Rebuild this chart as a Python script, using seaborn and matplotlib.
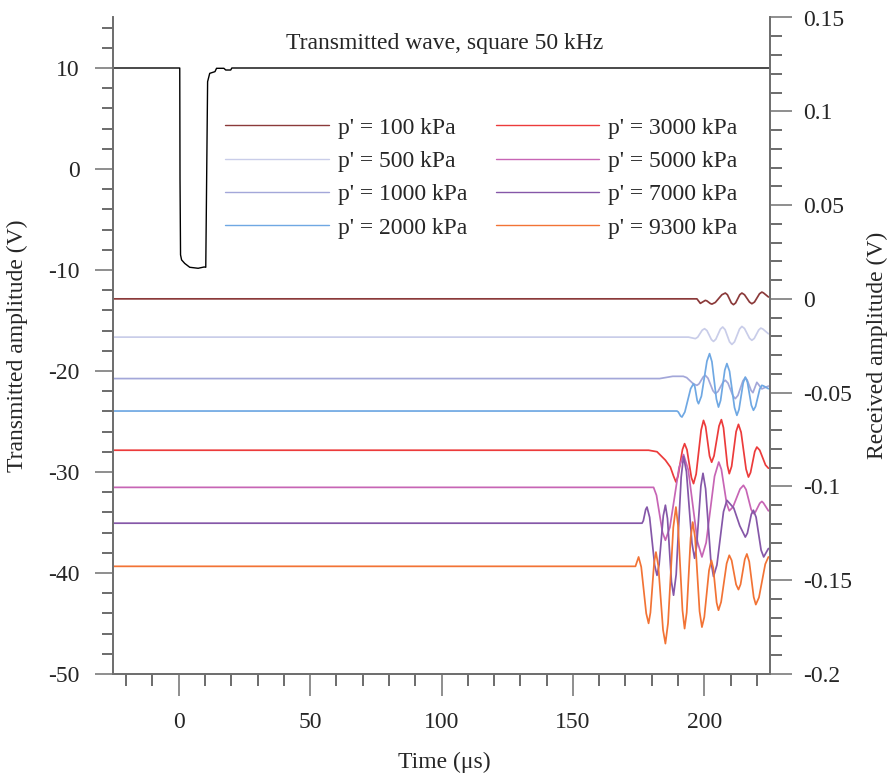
import matplotlib
matplotlib.use("Agg")
import matplotlib.pyplot as plt
import pandas as pd
import seaborn as sns
from matplotlib.ticker import FuncFormatter, MultipleLocator


# transmitted square pulse (left axis, V)
TX_T = [-25, 0.4, 0.5, 0.7, 1.1, 2.3, 4.2, 7.4, 9.7, 10.3, 11.0, 11.8, 13.8, 14.4, 17.2, 17.9, 19.8, 20.2, 225]
TX_V = [10, 10, -1.0, -8.5, -9.0, -9.35, -9.73, -9.83, -9.7, -9.73, 8.65, 9.47, 9.64, 9.97, 9.97, 9.8, 9.8, 10, 10]

LABELS = ["p' = 100 kPa", "p' = 500 kPa", "p' = 1000 kPa", "p' = 2000 kPa",
          "p' = 3000 kPa", "p' = 5000 kPa", "p' = 7000 kPa", "p' = 9300 kPa"]
COLORS = ["#8b3a3a", "#c9cde9", "#a3a7d9", "#6fa8e3",
          "#ec3b3b", "#c765b5", "#8557a8", "#f27335"]

R100_T = [-25, 197.2, 198.5, 200.4, 201.0, 202.3, 202.9, 204.2, 206.7, 208.0, 208.8, 210.3, 211.1, 211.9,
          213.5, 214.3, 215.3, 217.2, 218.1, 219.1, 221.0, 221.9, 222.5, 224.4]
R100_MV = [0, 0, -2.4, -0.8, -1.1, -2.5, -2.8, -1.9, 2.2, 3.1, 2.2, -2.2, -3.1, -2.2,
           2.2, 3.1, 2.2, -1.7, -2.6, -1.7, 2.7, 3.6, 3.2, 1.0]

R500_T = [-25, 194.0, 196.6, 197.5, 199.2, 200.1, 201.0, 202.7, 203.5, 204.4, 206.1, 207.0, 207.9, 209.6,
          210.5, 211.5, 213.4, 214.3, 215.3, 217.2, 218.1, 219.0, 220.7, 221.5, 222.3, 224.4]
R500_MV = [-20.4, -20.4, -21.2, -20.4, -16.7, -15.9, -16.9, -21.7, -22.7, -21.5, -16.2, -15.0, -16.4, -22.9,
           -24.3, -22.9, -16.1, -14.7, -15.8, -21.0, -22.1, -21.1, -16.6, -15.6, -16.1, -18.6]

R1000_T = [-25, 183.0, 188.0, 192.0, 193.3, 195.9, 197.2, 198.0, 199.6, 200.4, 201.4, 203.3, 204.2, 205.2,
           207.1, 208.0, 209.0, 210.9, 211.8, 212.8, 214.7, 215.6, 216.3, 217.8, 218.5, 220.0, 221.9, 224.4]
R1000_MV = [-42.5, -42.5, -41.3, -41.3, -42.0, -45.4, -46.1, -45.3, -41.6, -40.8, -42.3, -49.0, -50.5, -49.4,
            -44.5, -43.4, -44.9, -51.7, -53.2, -51.5, -43.7, -42.0, -43.2, -48.8, -50.0, -44.5, -48.0, -46.5]

R2000_T = [-25, 189.6, 190.1, 191.0, 191.5, 192.6, 194.8, 195.9, 196.4, 197.3, 197.8, 198.9, 201.0, 202.0,
           202.9, 204.6, 205.4, 206.2, 207.8, 208.6, 209.6, 211.5, 212.4, 213.2, 214.8, 215.6, 216.4, 217.9,
           218.7, 219.5, 221.1, 221.9, 222.5, 224.4]
R2000_MV = [-59.8, -59.8, -60.3, -62.5, -63.0, -60.3, -47.9, -45.2, -46.8, -54.3, -55.9, -51.9, -33.2, -29.2,
            -33.5, -53.4, -57.7, -54.2, -38.0, -34.5, -38.6, -58.0, -62.1, -59.0, -44.8, -41.7, -44.4, -56.7,
            -59.4, -57.4, -48.1, -46.1, -46.4, -47.9]

R3000_T = [-25, 178.8, 182.0, 185.2, 187.1, 188.3, 189.2, 190.0, 191.7, 192.5, 193.4, 195.1, 195.9, 196.9,
           198.8, 199.7, 200.5, 202.0, 202.8, 203.7, 205.6, 206.5, 207.3, 208.8, 209.5, 210.4, 212.1, 213.0,
           214.0, 215.9, 216.8, 217.6, 219.2, 220.0, 221.1, 223.3, 224.4]
R3000_MV = [-80.7, -80.7, -81.5, -86.0, -89.7, -94.5, -97.6, -94.5, -80.3, -77.2, -80.4, -95.3, -98.5, -93.4,
            -69.9, -64.8, -68.1, -83.8, -87.1, -83.7, -67.8, -64.4, -68.7, -88.9, -93.2, -89.3, -70.8, -66.9,
            -71.1, -90.8, -95.0, -92.6, -81.4, -79.0, -80.7, -88.6, -90.3]

R5000_T = [-25, 180.7, 181.8, 184.1, 185.2, 186.9, 190.4, 192.1, 193.9, 197.4, 199.1, 200.7, 203.9, 205.5,
           206.5, 208.5, 209.5, 210.9, 213.6, 214.9, 215.9, 217.8, 218.7, 219.5, 221.1, 221.9, 222.5, 224.4]
R5000_MV = [-100.5, -100.5, -104.7, -124.5, -128.7, -121.8, -89.9, -83.0, -91.2, -129.4, -137.6, -130.0, -94.6, -87.0,
            -90.9, -109.1, -113.0, -111.0, -101.4, -99.4, -101.7, -112.2, -114.5, -113.5, -109.0, -108.0, -108.8, -113.0]

R7000_T = [-25, 176.3, 176.8, 177.7, 178.2, 179.2, 181.1, 182.0, 182.8, 184.4, 185.2, 186.0, 187.5, 188.3,
           189.3, 191.2, 192.1, 193.2, 195.3, 196.3, 197.1, 198.7, 199.5, 200.5, 202.5, 203.5, 204.8, 207.3,
           208.6, 211.2, 213.5, 215.6, 216.4, 217.9, 218.7, 219.7, 221.6, 222.6, 224.4]
R7000_MV = [-119.6, -119.6, -118.3, -112.3, -111.0, -116.5, -141.9, -147.4, -141.8, -115.6, -110.0, -117.2, -150.8, -158.0,
            -146.9, -95.1, -84.0, -92.1, -130.2, -138.3, -131.5, -99.8, -93.0, -101.3, -139.8, -148.0, -141.9, -113.5,
            -107.4, -111.5, -121.0, -127.0, -124.9, -114.8, -112.7, -116.4, -133.9, -137.6, -133.1]

R9300_T = [-25, 173.8, 175.0, 176.0, 177.9, 178.8, 179.5, 180.9, 181.6, 182.5, 184.3, 185.2, 186.2, 188.2,
           189.2, 190.0, 191.7, 192.5, 193.3, 194.8, 195.6, 196.5, 198.2, 199.1, 200.0, 201.8, 202.7, 203.4,
           204.7, 205.4, 206.4, 208.5, 209.5, 210.4, 212.1, 213.0, 213.8, 215.4, 216.2, 217.1, 218.8, 219.6,
           220.8, 223.2, 224.4]
R9300_MV = [-142.6, -142.6, -137.6, -142.9, -167.7, -173.0, -167.3, -140.7, -135.0, -142.3, -176.5, -183.8, -172.9, -121.9,
            -111.0, -120.7, -166.1, -175.8, -167.3, -127.5, -119.0, -127.4, -166.6, -175.0, -169.7, -144.7, -139.4, -143.4,
            -162.0, -166.0, -161.6, -141.1, -136.7, -139.4, -152.3, -155.0, -152.2, -138.9, -136.0, -140.1, -159.0, -163.0,
            -159.2, -141.4, -137.6]

TIMES = [R100_T, R500_T, R1000_T, R2000_T, R3000_T, R5000_T, R7000_T, R9300_T]
VALUES = [R100_MV, R500_MV, R1000_MV, R2000_MV, R3000_MV, R5000_MV, R7000_MV, R9300_MV]

FS = 17
AXIS_GREY = "#707070"


def fmt_num(v, _):
    return f"{round(v, 3) + 0:g}"


def main() -> None:
    sns.set_theme(style="ticks")
    plt.rcParams["font.family"] = ["Liberation Serif", "DejaVu Serif"]
    plt.rcParams["axes.unicode_minus"] = False

    fig = plt.figure(figsize=(8.88, 7.79), dpi=100)
    ax = fig.add_axes([113 / 888, 1 - 674 / 779, 657 / 888, (674 - 17.5) / 779])
    ax2 = ax.twinx()

    tx = pd.DataFrame({"t": TX_T, "v": TX_V})
    sns.lineplot(data=tx, x="t", y="v", ax=ax, color="black", lw=1.0,
                 sort=False, estimator=None)

    rx = pd.concat(
        [pd.DataFrame({"t": t, "v": [mv / 1000 for mv in v], "p": lab})
         for lab, t, v in zip(LABELS, TIMES, VALUES)],
        ignore_index=True,
    )
    sns.lineplot(data=rx, x="t", y="v", hue="p", hue_order=LABELS, palette=COLORS,
                 ax=ax2, lw=1.25, sort=False, estimator=None)

    ax.set_xlim(-25, 225)
    ax.set_ylim(-50, 15)
    ax2.set_ylim(-0.2, 0.15)
    ax.xaxis.set_major_locator(MultipleLocator(50))
    ax.xaxis.set_minor_locator(MultipleLocator(10))
    ax.yaxis.set_major_locator(MultipleLocator(10))
    ax.yaxis.set_minor_locator(MultipleLocator(2))
    ax2.yaxis.set_major_locator(MultipleLocator(0.05))
    ax2.yaxis.set_minor_locator(MultipleLocator(0.01))
    ax2.yaxis.set_major_formatter(FuncFormatter(fmt_num))

    for a in (ax, ax2):
        a.spines["top"].set_visible(False)
        for s in ("left", "right", "bottom"):
            a.spines[s].set_color(AXIS_GREY)
            a.spines[s].set_linewidth(1.4)
    ax.tick_params(axis="x", which="major", length=16, width=1.1, color=AXIS_GREY, pad=11, labelsize=FS)
    ax.tick_params(axis="x", which="minor", length=8.5, width=1.1, color="#444444")
    ax.tick_params(axis="y", which="major", length=13, width=1.1, color=AXIS_GREY, pad=11, labelsize=FS)
    ax.tick_params(axis="y", which="minor", length=8, width=1.1, color="#444444")
    ax2.tick_params(axis="y", which="major", length=16, width=1.1, color=AXIS_GREY, pad=8, labelsize=FS)
    ax2.tick_params(axis="y", which="minor", length=8.5, width=1.1, color="#444444")

    ax.set_xlabel("Time (μs)", fontsize=FS, va="center")
    ax.xaxis.set_label_coords(0.505, -0.134)
    ax.set_ylabel("Transmitted amplitude (V)", fontsize=FS, va="center")
    ax.yaxis.set_label_coords(-0.145, 0.5)
    ax2.set_ylabel("Received amplitude (V)", fontsize=FS, va="center", rotation=90)
    ax2.yaxis.set_label_coords(1.163, 0.5)

    ax.text(101, 12.4, "Transmitted wave, square 50 kHz", ha="center", va="center", fontsize=FS)

    sns.move_legend(ax2, "upper left", bbox_to_anchor=((225 - 113) / 657, (674 - 117) / 656.5),
                    ncol=2, title=None, frameon=False, fontsize=FS, borderaxespad=0,
                    borderpad=0, handlelength=4.4, handletextpad=0.38, columnspacing=1.2,
                    labelspacing=0.5)
    for line in ax2.get_legend().get_lines():
        line.set_linewidth(1.0)

    fig.savefig("out.png", dpi=100)
    plt.close(fig)


if __name__ == "__main__":
    main()
